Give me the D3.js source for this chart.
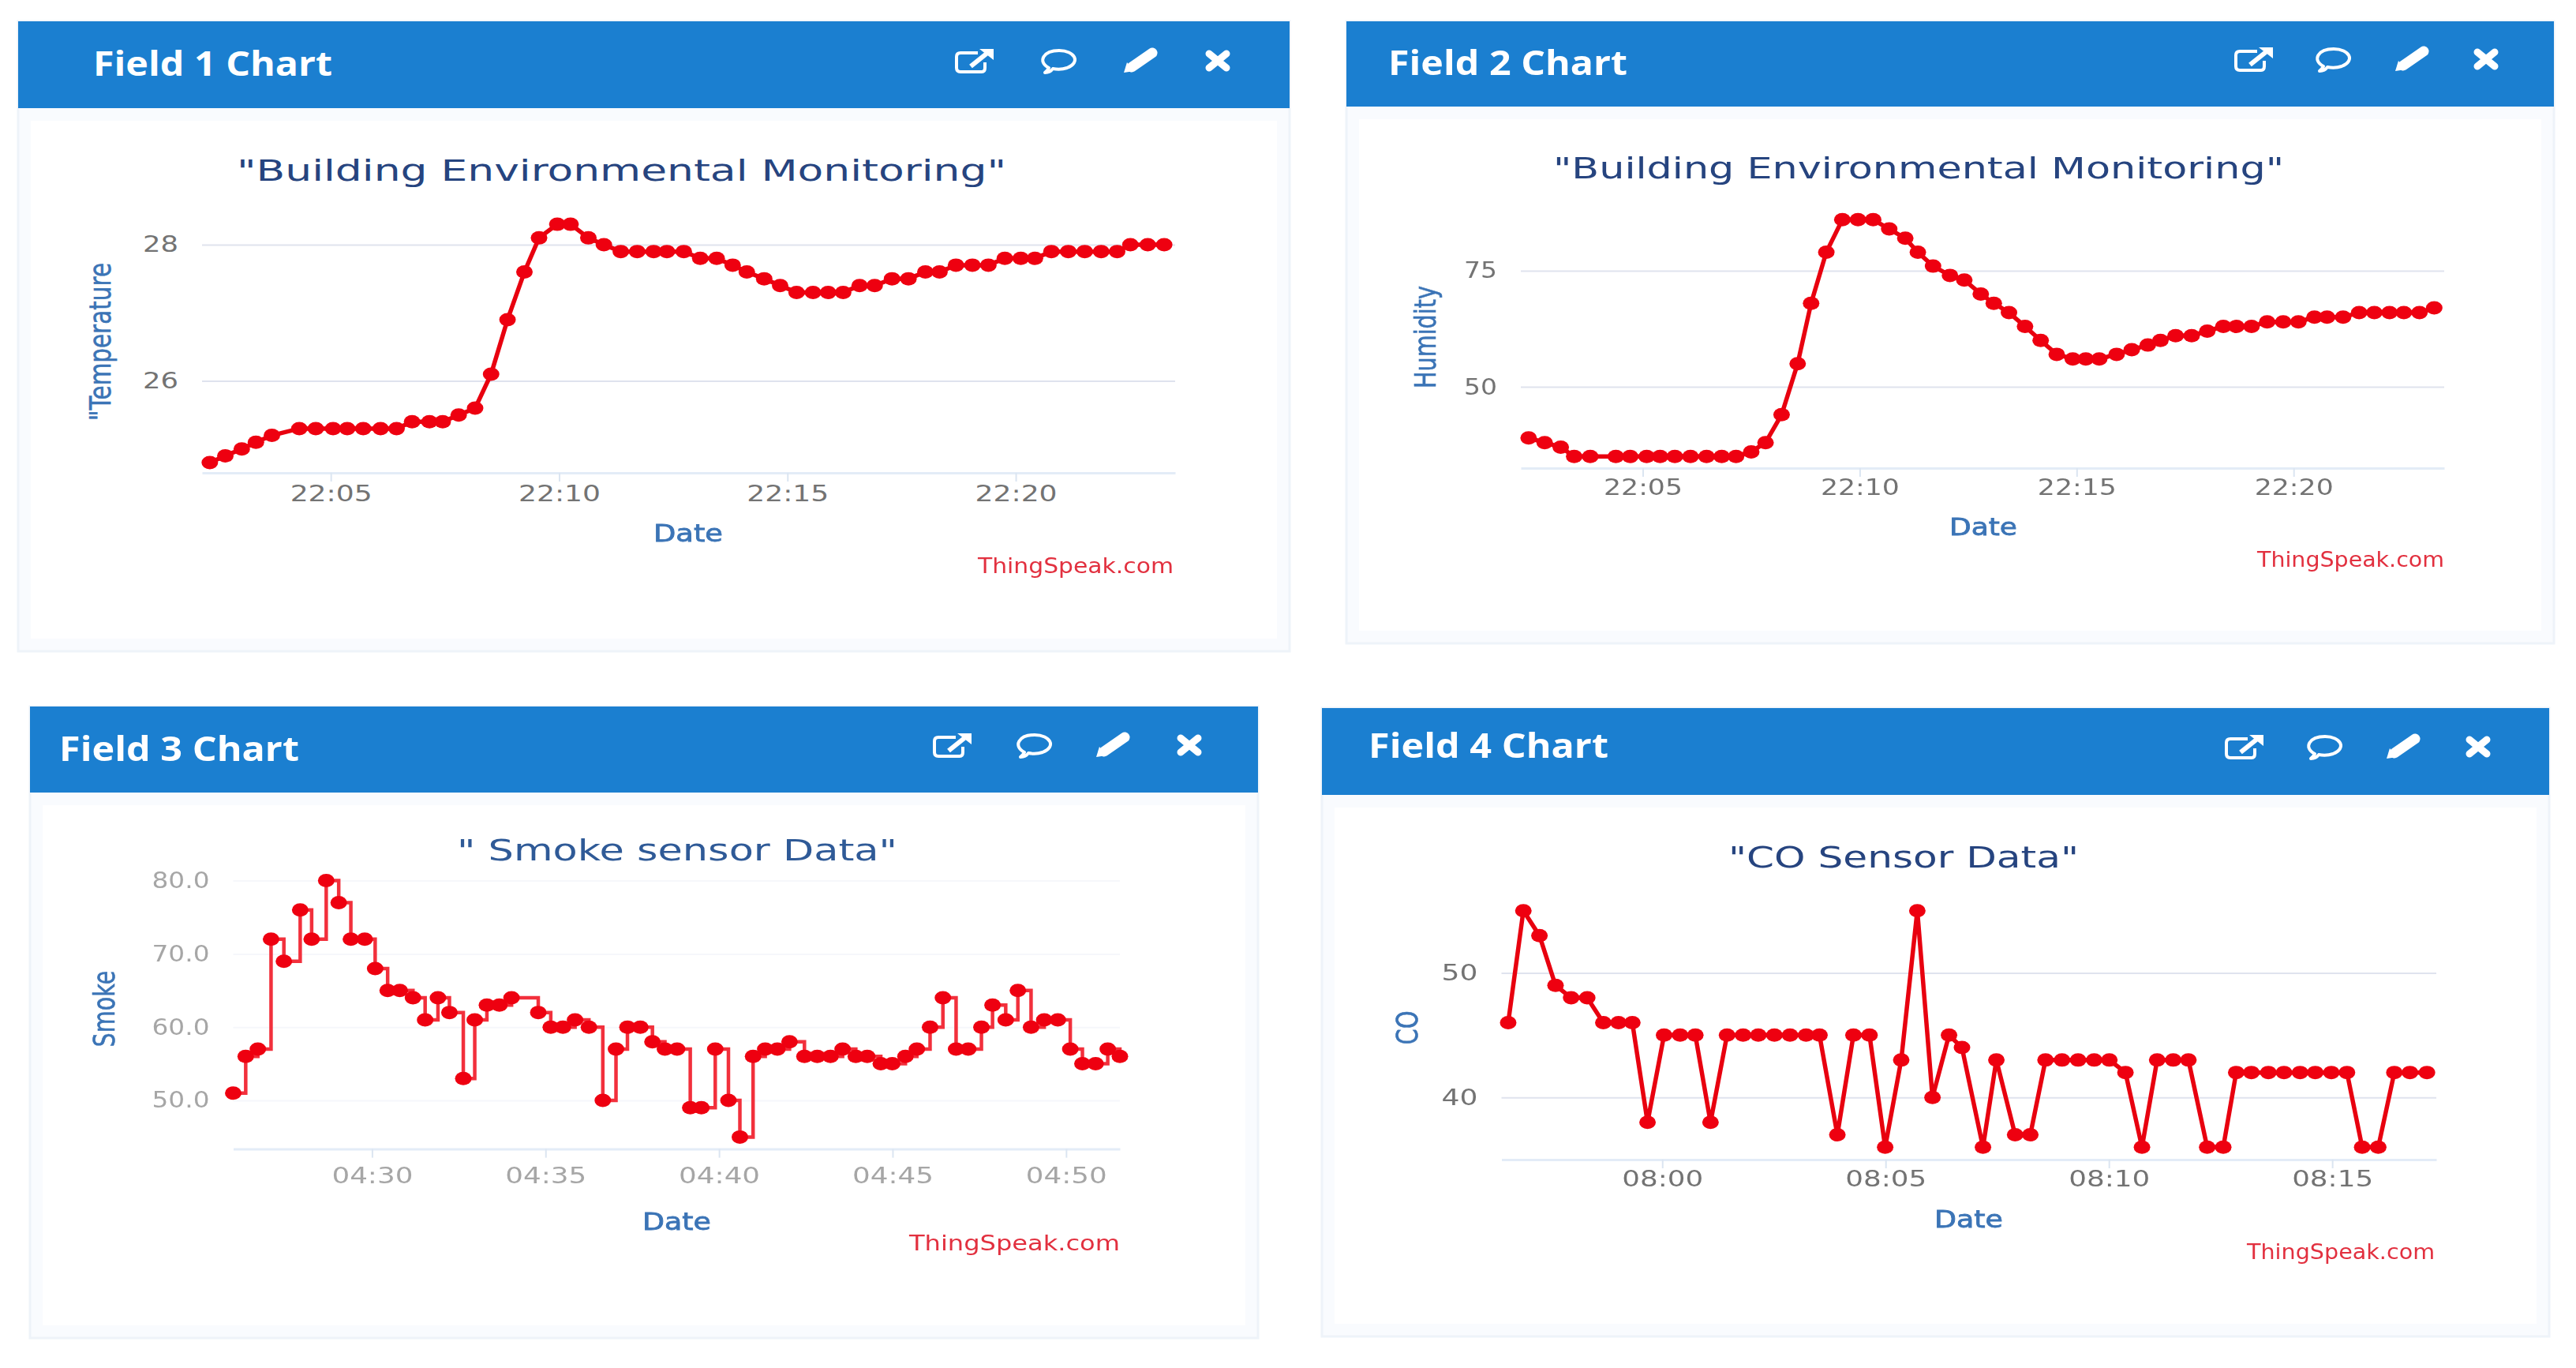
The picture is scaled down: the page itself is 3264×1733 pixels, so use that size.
<!DOCTYPE html>
<html>
<head>
<meta charset="utf-8">
<title>ThingSpeak field charts</title>
<script src="https://cdn.jsdelivr.net/npm/d3@7"></script>
<style>
  html, body { margin: 0; padding: 0; background: #fff; }
  svg { display: block; filter: blur(0.7px); }
</style>
</head>
<body>
<div id="chart"></div>
<script>
const field1Minutes = [2.35, 2.69, 3.05, 3.36, 3.71, 4.31, 4.67, 5.05, 5.36, 5.71, 6.09, 6.44, 6.78, 7.16, 7.45, 7.80, 8.16, 8.51, 8.87, 9.24, 9.56, 9.96, 10.25, 10.64, 10.98, 11.35, 11.71, 12.07, 12.36, 12.73, 13.09, 13.45, 13.80, 14.11, 14.49, 14.84, 15.20, 15.56, 15.89, 16.22, 16.58, 16.91, 17.29, 17.65, 18.02, 18.33, 18.69, 19.05, 19.40, 19.76, 20.11, 20.42, 20.78, 21.15, 21.51, 21.87, 22.22, 22.51, 22.89, 23.25];
const field1Values = [24.8, 24.9, 25.0, 25.1, 25.2, 25.3, 25.3, 25.3, 25.3, 25.3, 25.3, 25.3, 25.4, 25.4, 25.4, 25.5, 25.6, 26.1, 26.9, 27.6, 28.1, 28.3, 28.3, 28.1, 28.0, 27.9, 27.9, 27.9, 27.9, 27.9, 27.8, 27.8, 27.7, 27.6, 27.5, 27.4, 27.3, 27.3, 27.3, 27.3, 27.4, 27.4, 27.5, 27.5, 27.6, 27.6, 27.7, 27.7, 27.7, 27.8, 27.8, 27.8, 27.9, 27.9, 27.9, 27.9, 27.9, 28.0, 28.0, 28.0];

const field2Minutes = [2.37, 2.74, 3.11, 3.42, 3.79, 4.38, 4.71, 5.09, 5.40, 5.74, 6.10, 6.47, 6.82, 7.15, 7.50, 7.83, 8.20, 8.57, 8.88, 9.23, 9.60, 9.96, 10.31, 10.68, 11.05, 11.34, 11.69, 12.08, 12.41, 12.79, 13.09, 13.44, 13.81, 14.17, 14.54, 14.91, 15.21, 15.52, 15.92, 16.27, 16.64, 16.93, 17.28, 17.65, 18.01, 18.38, 18.68, 19.03, 19.39, 19.76, 20.11, 20.48, 20.77, 21.14, 21.51, 21.86, 22.21, 22.54, 22.90, 23.24];
const field2Values = [39, 38, 37, 35, 35, 35, 35, 35, 35, 35, 35, 35, 35, 35, 36, 38, 44, 55, 68, 79, 86, 86, 86, 84, 82, 79, 76, 74, 73, 70, 68, 66, 63, 60, 57, 56, 56, 56, 57, 58, 59, 60, 61, 61, 62, 63, 63, 63, 64, 64, 64, 65, 65, 65, 66, 66, 66, 66, 66, 67];

const field3Minutes = [26.00, 26.36, 26.71, 27.09, 27.46, 27.93, 28.26, 28.68, 29.04, 29.39, 29.79, 30.09, 30.45, 30.80, 31.18, 31.53, 31.90, 32.23, 32.63, 32.96, 33.31, 33.67, 34.02, 34.79, 35.15, 35.50, 35.85, 36.25, 36.65, 37.03, 37.36, 37.73, 38.08, 38.44, 38.79, 39.17, 39.49, 39.89, 40.27, 40.60, 40.98, 41.33, 41.68, 42.03, 42.46, 42.83, 43.21, 43.56, 43.94, 44.27, 44.66, 44.99, 45.37, 45.70, 46.08, 46.45, 46.83, 47.18, 47.56, 47.88, 48.26, 48.61, 48.99, 49.37, 49.76, 50.12, 50.47, 50.85, 51.20, 51.55];
const field3Values = [51, 56, 57, 72, 69, 76, 72, 80, 77, 72, 72, 68, 65, 65, 64, 61, 64, 62, 53, 61, 63, 63, 64, 62, 60, 60, 61, 60, 50, 57, 60, 60, 58, 57, 57, 49, 49, 57, 50, 45, 56, 57, 57, 58, 56, 56, 56, 57, 56, 56, 55, 55, 56, 57, 60, 64, 57, 57, 60, 63, 61, 65, 60, 61, 61, 57, 55, 55, 57, 56];

// Field 4 starts before 08:00, so its minutes count from 07:00
const field4Minutes = [56.55, 56.89, 57.25, 57.61, 57.96, 58.32, 58.68, 59.02, 59.33, 59.67, 60.04, 60.40, 60.74, 61.08, 61.45, 61.81, 62.15, 62.51, 62.86, 63.22, 63.52, 63.92, 64.28, 64.64, 64.99, 65.35, 65.71, 66.05, 66.42, 66.71, 67.18, 67.48, 67.90, 68.24, 68.58, 68.95, 69.31, 69.67, 70.01, 70.37, 70.74, 71.08, 71.44, 71.78, 72.20, 72.56, 72.85, 73.19, 73.57, 73.92, 74.28, 74.62, 74.98, 75.33, 75.67, 76.03, 76.39, 76.74, 77.12];
const field4Values = [46, 55, 53, 49, 48, 48, 46, 46, 46, 38, 45, 45, 45, 38, 45, 45, 45, 45, 45, 45, 45, 37, 45, 45, 36, 43, 55, 40, 45, 44, 36, 43, 37, 37, 43, 43, 43, 43, 43, 42, 36, 43, 43, 43, 36, 36, 42, 42, 42, 42, 42, 42, 42, 42, 36, 36, 42, 42, 42];

const field1Ticks = [5, 10, 15, 20];
const field2Ticks = [5, 10, 15, 20];
const field3Ticks = [30, 35, 40, 45, 50];
const field4Ticks = [60, 65, 70, 75];

const field1YTicks = [26, 28];
const field2YTicks = [50, 75];
const field3YTicks = [50, 60, 70, 80];
const field4YTicks = [40, 50];

const panels = [
  {
    name: "Field 1 Chart", title: "\"Building Environmental Monitoring\"", yLabel: "\"Temperature",
    minutes: field1Minutes, values: field1Values, ticks: field1Ticks, yTicks: field1YTicks,
    hour: 22, xDomain: [2.18, 23.49], yDomain: [24.65, 28], yFormat: d3.format("d"),
    card: [23, 27, 1634, 825], headerBottom: 137,
    plot: { left: 256, right: 1489, top: 310, bottom: 599 },
    nameText: [118, 96, 303], icons: [1235, 1342, 1445, 1543], iconY: 77,
    titleText: [300, 229, 975], yText: [140, 433, 200], dateText: [828, 686, 88], creditText: [1239, 726, 248],
    tickGap: 36, tickWidth: 104, yTickWidth: 45
  },
  {
    name: "Field 2 Chart", title: "\"Building Environmental Monitoring\"", yLabel: "Humidity",
    minutes: field2Minutes, values: field2Values, ticks: field2Ticks, yTicks: field2YTicks,
    hour: 22, xDomain: [2.19, 23.47], yDomain: [32.5, 75], yFormat: d3.format("d"),
    card: [1706, 27, 3236, 815], headerBottom: 135,
    plot: { left: 1927, right: 3097, top: 343, bottom: 593 },
    nameText: [1759, 95, 303], icons: [2856, 2957, 3056, 3150], iconY: 75,
    titleText: [1968, 226, 926], yText: [1819, 427, 130], dateText: [2470, 678, 86], creditText: [2860, 718, 237],
    tickGap: 34, tickWidth: 100, yTickWidth: 42
  },
  {
    name: "Field 3 Chart", title: "\" Smoke sensor Data\"", yLabel: "Smoke",
    minutes: field3Minutes, values: field3Values, ticks: field3Ticks, yTicks: field3YTicks,
    hour: 4, xDomain: [26, 51.55], yDomain: [43.36, 80], yFormat: d3.format(".1f"),
    card: [38, 895, 1594, 1695], headerBottom: 1004,
    plot: { left: 295.5, right: 1419, top: 1115.6, bottom: 1455.6 },
    nameText: [75, 964, 304], icons: [1207, 1311, 1410, 1507], iconY: 944,
    titleText: [579, 1090, 558], yText: [145, 1278, 97], dateText: [814, 1558, 87], creditText: [1152, 1584, 267],
    tickGap: 43, tickWidth: 103, yTickWidth: 73,
    step: true, lineWidth: 4.5, lineColor: "#f2303c", tickColor: "#a6a6a6", gridColor: "#f6f7fb", titleColor: "#2f5a97"
  },
  {
    name: "Field 4 Chart", title: "\"CO Sensor Data\"", yLabel: "CO",
    minutes: field4Minutes, values: field4Values, ticks: field4Ticks, yTicks: field4YTicks,
    hour: 7, xDomain: [56.4, 77.33], yDomain: [35, 50], yFormat: d3.format("d"),
    card: [1675, 897, 3230, 1693], headerBottom: 1007,
    plot: { left: 1902.5, right: 3087, top: 1232.5, bottom: 1469 },
    nameText: [1734, 960, 304], icons: [2844, 2946, 3045, 3140], iconY: 946,
    titleText: [2190, 1099, 444], yText: [1796, 1302, 43], dateText: [2451, 1555, 87], creditText: [2847, 1595, 238],
    tickGap: 34, tickWidth: 103, yTickWidth: 46
  }
];

const width = 3264;
const height = 1733;
const gutter = 16;
const baseDate = Date.UTC(2020, 0, 1);
const toDate = (hour, minute) => new Date(baseDate + (hour * 60 + minute) * 60000);

const svg = d3.select("#chart").append("svg")
  .attr("width", width)
  .attr("height", height);

function drawIcons(g, xs, y) {
  const icon = (x) => g.append("g")
    .attr("transform", `translate(${x},${y})`)
    .attr("fill", "none")
    .attr("stroke", "#fff");

  // open in new window
  const link = icon(xs[0]).attr("stroke-width", 4);
  link.append("path")
    .attr("d", "M4,-10 H-18 Q-23,-10 -23,-5 V9 Q-23,14 -18,14 H9 Q13,14 13,9 V2")
    .attr("stroke-linejoin", "round");
  link.append("path").attr("d", "M-5,7 L15,-9").attr("stroke-width", 6);
  link.append("path").attr("d", "M6,-15 H24 V-1 Z").attr("fill", "#fff").attr("stroke", "none");

  // comment
  const comment = icon(xs[1]).attr("stroke-width", 4);
  comment.append("path")
    .attr("d", "M-13,9 C-28,1 -20,-13 0,-13 C20,-13 28,2 10,9 C4,11 -2,11 -8,10 C-10,13 -13,15 -18,15 C-15,13 -14,11 -13,9 Z")
    .attr("stroke-linejoin", "round");

  // edit
  const edit = icon(xs[2]);
  edit.append("path").attr("d", "M-11,8 L15,-10").attr("stroke-width", 13).attr("stroke-linecap", "round");
  edit.append("path").attr("d", "M-21,15 L-17,2 L-8,13 Z").attr("fill", "#fff").attr("stroke", "none");

  // remove
  const remove = icon(xs[3]).attr("stroke-width", 9).attr("stroke-linecap", "round");
  remove.append("path").attr("d", "M-11,-9 L11,9 M11,-9 L-11,9");
}

function drawPanel(p) {
  const g = svg.append("g");
  const [x0, y0, x1, y1] = p.card;
  const { left, right, top, bottom } = p.plot;

  // Card, soft inner edge and header
  g.append("rect")
    .attr("x", x0).attr("y", y0)
    .attr("width", x1 - x0).attr("height", y1 - y0)
    .attr("fill", "#f9fbfe")
    .attr("stroke", "#eef3f9")
    .attr("stroke-width", 3);

  g.append("rect")
    .attr("x", x0 + gutter).attr("y", p.headerBottom + gutter)
    .attr("width", x1 - x0 - 2 * gutter).attr("height", y1 - p.headerBottom - 2 * gutter)
    .attr("fill", "#fff");

  g.append("rect")
    .attr("x", x0).attr("y", y0)
    .attr("width", x1 - x0).attr("height", p.headerBottom - y0)
    .attr("fill", "#1b7fd0");

  g.append("text")
    .attr("x", p.nameText[0]).attr("y", p.nameText[1])
    .attr("textLength", p.nameText[2])
    .attr("lengthAdjust", "spacingAndGlyphs")
    .style("font-family", "'Open Sans'")
    .style("font-size", "43px")
    .style("font-weight", "bold")
    .style("fill", "#fff")
    .text(p.name);

  drawIcons(g, p.icons, p.iconY);

  // Scales
  const x = d3.scaleTime()
    .domain(p.xDomain.map(m => toDate(p.hour, m)))
    .range([left, right]);

  const y = d3.scaleLinear()
    .domain(p.yDomain)
    .range([bottom, top]);

  const gridColor = p.gridColor || "#dfe3ee";
  const tickColor = p.tickColor || "#737373";

  // Axes
  const xAxis = g.append("g")
    .attr("transform", `translate(0,${bottom})`)
    .call(d3.axisBottom(x)
      .tickValues(p.ticks.map(m => toDate(p.hour, m)))
      .tickFormat(d3.utcFormat("%H:%M"))
      .tickSizeInner(11)
      .tickSizeOuter(0));

  xAxis.select(".domain").attr("stroke", "#e3ecf7").attr("stroke-width", 3);
  xAxis.selectAll(".tick line").attr("stroke", "#dbe5f1").attr("stroke-width", 2);
  xAxis.selectAll(".tick text")
    .attr("dy", null)
    .attr("y", p.tickGap)
    .attr("textLength", p.tickWidth)
    .attr("lengthAdjust", "spacingAndGlyphs")
    .style("font-family", "'DejaVu Sans'")
    .style("font-size", "28px")
    .style("fill", tickColor);

  const yAxis = g.append("g")
    .attr("transform", `translate(${left},0)`)
    .call(d3.axisLeft(y)
      .tickValues(p.yTicks)
      .tickFormat(p.yFormat)
      .tickSize(left - right)
      .tickPadding(30));

  yAxis.select(".domain").remove();
  yAxis.selectAll(".tick line").attr("stroke", gridColor).attr("stroke-width", 2);
  yAxis.selectAll(".tick text")
    .attr("textLength", p.yTickWidth)
    .attr("lengthAdjust", "spacingAndGlyphs")
    .style("font-family", "'DejaVu Sans'")
    .style("font-size", "28px")
    .style("fill", tickColor);

  // Title and labels
  g.append("text")
    .attr("x", p.titleText[0]).attr("y", p.titleText[1])
    .attr("textLength", p.titleText[2])
    .attr("lengthAdjust", "spacingAndGlyphs")
    .style("font-family", "'DejaVu Sans'")
    .style("font-size", "38px")
    .style("fill", p.titleColor || "#26447f")
    .text(p.title);

  g.append("text")
    .attr("transform", `translate(${p.yText[0]},${p.yText[1]}) rotate(-90)`)
    .attr("text-anchor", "middle")
    .attr("textLength", p.yText[2])
    .attr("lengthAdjust", "spacingAndGlyphs")
    .style("font-family", "'DejaVu Sans'")
    .style("font-size", "38px")
    .style("stroke", "#3b74b6")
    .style("stroke-width", 0.6)
    .style("fill", "#3b74b6")
    .text(p.yLabel);

  g.append("text")
    .attr("x", p.dateText[0]).attr("y", p.dateText[1])
    .attr("textLength", p.dateText[2])
    .attr("lengthAdjust", "spacingAndGlyphs")
    .style("font-family", "'DejaVu Sans'")
    .style("font-size", "31px")
    .style("stroke", "#3b74b6")
    .style("stroke-width", 0.8)
    .style("fill", "#3b74b6")
    .text("Date");

  g.append("text")
    .attr("x", p.creditText[0]).attr("y", p.creditText[1])
    .attr("textLength", p.creditText[2])
    .attr("lengthAdjust", "spacingAndGlyphs")
    .style("font-family", "'DejaVu Sans'")
    .style("font-size", "26px")
    .style("fill", "#e2303f")
    .text("ThingSpeak.com");

  // Series
  const points = p.minutes.map((m, i) => ({ time: toDate(p.hour, m), value: p.values[i] }));

  const line = d3.line()
    .x(d => x(d.time))
    .y(d => y(d.value))
    .curve(p.step ? d3.curveStepAfter : d3.curveLinear);

  g.append("path")
    .datum(points)
    .attr("fill", "none")
    .attr("stroke", p.lineColor || "#e8000f")
    .attr("stroke-width", p.lineWidth || 5.5)
    .attr("d", line);

  // The source image is stretched sideways, so its markers are wider than tall
  g.selectAll("ellipse")
    .data(points)
    .enter()
    .append("ellipse")
    .attr("cx", d => x(d.time))
    .attr("cy", d => y(d.value))
    .attr("rx", 10.5)
    .attr("ry", 8.5)
    .attr("fill", "#ee0010");
}

panels.forEach(drawPanel);
</script>
</body>
</html>
